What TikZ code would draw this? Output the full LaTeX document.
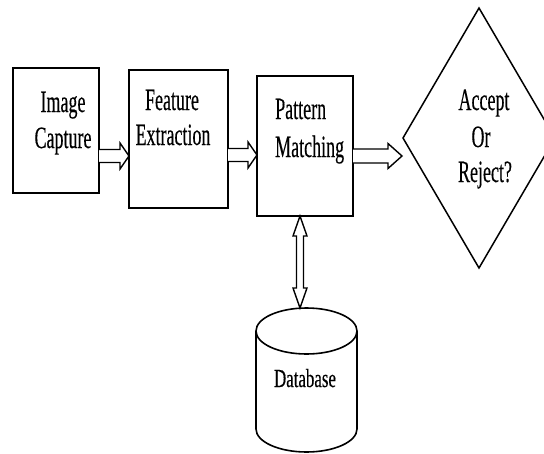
\documentclass[tikz,border=0pt]{standalone}
\usepackage{fontspec}
\setmainfont{Liberation Serif}
\newfontfamily\tfont[FakeStretch=0.58,FakeBold=0.3]{Liberation Serif}
\newfontfamily\dfont[FakeStretch=0.65,FakeBold=0.3]{Liberation Serif}
\usetikzlibrary{shapes.geometric,calc}
\newcommand{\harrow}[5]{\draw[blk] ($(#1)+(0,-#3)$) -- ($(#2)+(-#5,-#3)$) -- ($(#2)+(-#5,-#4)$) -- (#2) -- ($(#2)+(-#5,#4)$) -- ($(#2)+(-#5,#3)$) -- ($(#1)+(0,#3)$);}
\begin{document}
\begin{tikzpicture}[x=1pt,y=-1pt,
 boxnode/.style={draw,line width=2.4pt,rectangle,inner sep=0pt,outer sep=0pt},
 lbl/.style={anchor=base,inner sep=0pt,font=\tfont\fontsize{31}{34}\selectfont},
 lbll/.style={lbl,anchor=base west},
 blk/.style={draw,line width=1.4pt,line join=miter,fill=white},
 cyl/.style={draw,line width=1.6pt}]
\useasboundingbox (0,0) rectangle (544,453);
\clip (0,0) rectangle (544,453);
% boxes
\node[boxnode,minimum width=86pt,minimum height=125pt] (cap) at (56,130.5) {};
\node[boxnode,minimum width=99pt,minimum height=138pt] (feat) at (178.5,139) {};
\node[boxnode,minimum width=96pt,minimum height=140pt] (pat) at (305,146) {};
\node[draw,diamond,line width=1.5pt,minimum width=152pt,minimum height=260pt,inner sep=0pt,outer sep=0pt] (dec) at (479,138) {};
% database
\node[inner sep=0pt,outer sep=0pt,minimum width=101pt,minimum height=144pt] (db) at (306.5,380) {};
\draw[cyl] ($(db.north west)+(0,23)$) -- ($(db.south west)+(0,-23)$) arc[start angle=180,end angle=360,x radius=50.5pt,y radius=23pt] -- ($(db.north east)+(0,23)$);
\draw[cyl] ($(db.north)+(0,23)$) ellipse[x radius=50.5pt,y radius=23pt];
% labels
\node[lbl] (t1) at (63,112) {Image};
\node[lbl] (t2) at (63,148) {Capture};
\node[lbl] (t3) at (172,110) {Feature};
\node[lbl] (t4) at (173,145) {Extraction};
\node[lbll] (t5) at (275,119) {Pattern};
\node[lbll] (t6) at (275,157) {Matching};
\node[lbl] (t7) at (484,110) {Accept};
\node[lbl] (t8) at (481,147) {Or};
\node[lbl] (t9) at (485,182) {Reject?};
\node[anchor=base,inner sep=0pt,font=\dfont\fontsize{26}{30}\selectfont] (t10) at (305,387) {Database};
% arrows
\coordinate (a1s) at ($(cap.east)+(0,25.5)$);
\coordinate (a1e) at (feat.west |- a1s);
\coordinate (a2s) at ($(feat.east)+(0,16)$);
\coordinate (a2e) at (pat.west |- a2s);
\coordinate (a3s) at ($(pat.east)+(0,10)$);
\coordinate (a3e) at ($(dec.west |- a3s)+(-1,0)$);
\harrow{a1s}{a1e}{6.5}{13}{9}
\harrow{a2s}{a2e}{6.5}{13}{9}
\harrow{a3s}{a3e}{7}{12.5}{14}
\coordinate (vt) at ($(pat.south)+(-5,0)$);
\coordinate (vb) at (vt |- db.north);
\draw[blk] (vt) -- ++(7,20) -- ++(-3.5,0) -- ($(vb)+(3.5,-20)$) -- ++(3.5,0) -- (vb) -- ++(-7,-20) -- ++(3.5,0) -- ($(vt)+(-3.5,20)$) -- ++(-3.5,0) -- cycle;
\end{tikzpicture}
\end{document}
